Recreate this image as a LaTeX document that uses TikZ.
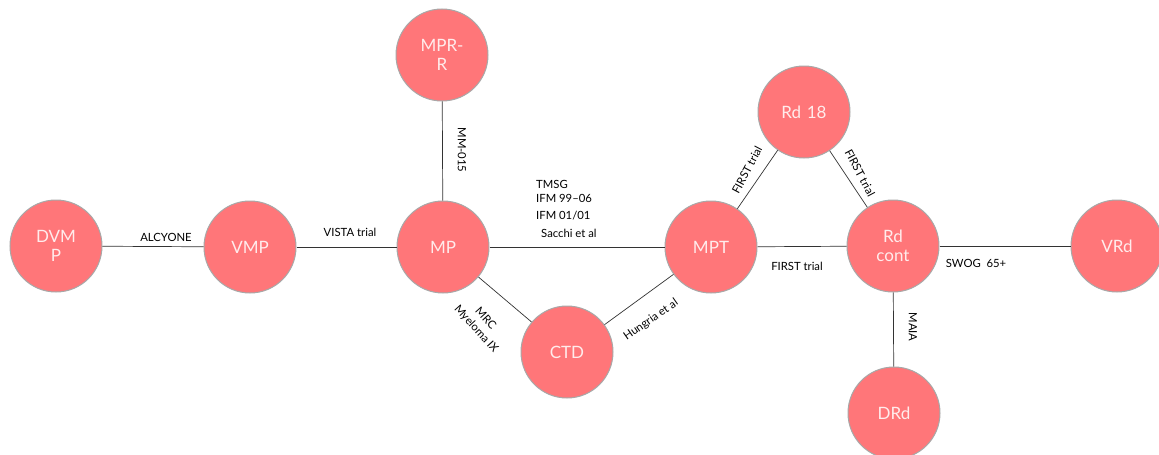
\documentclass[tikz,border=0pt]{standalone}
\usepackage{fontspec}
\setmainfont{Lato}
\definecolor{nodefill}{HTML}{FF7679}
\definecolor{nodeline}{HTML}{A8A8A8}
\definecolor{nodetext}{HTML}{FFECEC}
\definecolor{edgeline}{HTML}{333333}
\begin{document}
\begin{tikzpicture}[x=1pt,y=-1pt,
  drug/.style={circle,fill=nodefill,draw=nodeline,line width=1pt,minimum size=92pt,inner sep=0pt,
    text=nodetext,font=\fontsize{17}{19}\selectfont,align=center,text width=60pt},
  edge/.style={draw=edgeline,line width=0.7pt},
  lbl/.style={font=\fontsize{11.3}{13}\selectfont,text=black,inner sep=0pt}]
\useasboundingbox (0,0) rectangle (1159,455);
\node[drug] (dvmp) at (56,246) {DVM\\P};
\node[drug] (vmp) at (250,247) {VMP};
\node[drug] (mp) at (443,247) {MP};
\node[drug] (mprr) at (442,55) {MPR-\\R};
\node[drug] (ctd) at (567,352) {CTD};
\node[drug] (mpt) at (711,247) {MPT};
\node[drug] (rd18) at (804,112) {Rd 18};
\node[drug] (rdcont) at (893,246) {Rd\\cont};
\node[drug] (vrd) at (1117,246) {VRd};
\node[drug] (drd) at (894,413) {DRd};
\draw[edge] (dvmp) -- (vmp);
\draw[edge] (vmp) -- (mp);
\draw[edge] (mprr) -- (mp);
\draw[edge] (mp) -- (mpt);
\draw[edge] (mp) -- (ctd);
\draw[edge] (ctd) -- (mpt);
\draw[edge] (mpt) -- (rd18);
\draw[edge] (rd18) -- (rdcont);
\draw[edge] (mpt) -- (rdcont);
\draw[edge] (rdcont) -- (vrd);
\draw[edge] (rdcont) -- (drd);
\node[lbl] (l1) at (166,237) {ALCYONE};
\node[lbl] (l2) at (350,232) {VISTA trial};
\node[lbl,rotate=-90] (l3) at (462,150) {MM-015};
\node[lbl,anchor=west] (l4) at (536,184) {TMSG};
\node[lbl,anchor=west] (l5) at (536,198) {IFM 99--06};
\node[lbl,anchor=west] (l6) at (536,216) {IFM 01/01};
\node[lbl,anchor=west] (l7) at (541,233) {Sacchi et al};
\node[lbl] (l8) at (797,266) {FIRST trial};
\node[lbl,rotate=62] (l9) at (747,170) {FIRST trial};
\node[lbl,rotate=-62] (l10) at (860,173) {FIRST trial};
\node[lbl,rotate=-48] (l11a) at (486,318) {MRC};
\node[lbl,rotate=-48] (l11b) at (476,329) {Myeloma IX};
\node[lbl,rotate=35] (l12) at (651,320) {Hungria et al};
\node[lbl] (l13) at (976,263) {SWOG\ \ 65+};
\node[lbl,rotate=-90] (l14) at (913,327) {MAIA};
\end{tikzpicture}
\end{document}
